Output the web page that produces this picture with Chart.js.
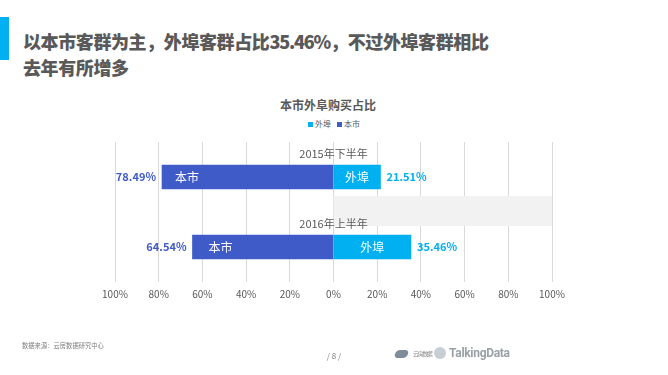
<!DOCTYPE html>
<html><head><meta charset="utf-8">
<script src="https://cdn.jsdelivr.net/npm/chart.js@4/dist/chart.umd.min.js"></script>
<style>
html,body{margin:0;padding:0;background:#fff;}
#page{position:relative;width:668px;height:375px;overflow:hidden;font-family:"Noto Sans CJK SC","Noto Sans",sans-serif;}
#accent{position:absolute;left:0;top:17px;width:9px;height:43px;background:#00b0f0;}
#title{position:absolute;left:23px;top:28px;font-size:18px;font-weight:900;line-height:26px;color:#595959;white-space:nowrap;letter-spacing:-0.4px;}
#title span{letter-spacing:-1.2px;}
#ctitle{position:absolute;left:0;width:656px;top:96px;text-align:center;font-size:12px;font-weight:bold;color:#595959;}
#legend{position:absolute;left:0;width:668px;top:118px;text-align:center;font-size:8px;color:#595959;line-height:12px;}
#legend span.sq{display:inline-block;width:5px;height:5px;margin-right:2px;vertical-align:0px;}
#legend span.it{margin:0 3px;}
#src{position:absolute;left:22px;top:341px;font-size:6.3px;color:#7f7f7f;}
#pg{position:absolute;left:0;width:668px;top:350px;text-align:center;font-size:8px;color:#7f7f7f;}
#logo1{position:absolute;left:395px;top:349px;font-size:6px;color:#8c8c8c;white-space:nowrap;letter-spacing:-1.4px;}
#logo1 b{display:inline-block;width:13px;height:8px;background:#7f8c99;border-radius:4px;transform:skewX(-20deg);vertical-align:-2px;margin-right:5px;}
#logo2{position:absolute;left:434px;top:346px;font-size:12px;font-weight:bold;color:#9aa0a6;font-family:"Liberation Sans Narrow","Roboto",sans-serif;letter-spacing:-0.3px;white-space:nowrap;}
#logo2 i{display:inline-block;width:12px;height:12px;border-radius:6px;background:#c7ced4;vertical-align:-2px;margin-right:3px;}
canvas{position:absolute;left:0;top:0;}
</style></head>
<body><div id="page">
<div id="accent"></div>
<div id="title">以本市客群为主，外埠客群占比<span>35.46%</span>，不过外埠客群相比<br>去年有所增多</div>
<div id="ctitle">本市外阜购买占比</div>
<div id="legend"></div>
<canvas id="c" width="668" height="375"></canvas>
<div id="src">数据来源：云房数据研究中心</div>
<div id="pg">/ 8 /</div>
<div id="logo1"><b></b>云房数据</div>
<div id="logo2"><i></i>TalkingData</div>
</div>
<script>
const categories = ['2015年下半年', '2016年上半年'];
const localShare = [78.49, 64.54];   // 本市
const outsideShare = [21.51, 35.46]; // 外埠
const tickValues = [-100, -80, -60, -40, -20, 0, 20, 40, 60, 80, 100];
const seriesNames = ['外埠', '本市'];
const colorOutside = '#00b0f0';
const colorLocal = '#3f5bc8';

// legend
const lg = document.getElementById('legend');
lg.innerHTML = seriesNames.map((n, i) =>
  `<span class="it"><span class="sq" style="background:${i === 0 ? colorOutside : colorLocal}"></span>${n}</span>`).join('');

const FONT = '"Noto Sans CJK SC","Noto Sans",sans-serif';

const labelPlugin = {
  id: 'labels',
  beforeDatasetsDraw(chart) {
    const ctx = chart.ctx, x = chart.scales.x, y = chart.scales.y;
    // light gray decoration between the two groups
    const yc = y.getPixelForValue(1);
    ctx.save();
    ctx.fillStyle = '#f2f2f2';
    ctx.fillRect(x.getPixelForValue(0), yc - 51, x.getPixelForValue(100) - x.getPixelForValue(0), 30);
    ctx.restore();
  },
  afterDatasetsDraw(chart) {
    const ctx = chart.ctx, x = chart.scales.x, y = chart.scales.y;
    ctx.save();
    categories.forEach((cat, i) => {
      const yc = y.getPixelForValue(i);
      ctx.font = '11px ' + FONT;
      ctx.fillStyle = '#595959';
      ctx.textAlign = 'center';
      ctx.textBaseline = 'middle';
      ctx.fillText(cat, x.getPixelForValue(0), yc - 23.5);
      // outer values
      ctx.font = 'bold 11px ' + FONT;
      ctx.fillStyle = colorLocal;
      ctx.textAlign = 'right';
      ctx.fillText(localShare[i].toFixed(2) + '%', x.getPixelForValue(-localShare[i]) - 6, yc);
      ctx.fillStyle = colorOutside;
      ctx.textAlign = 'left';
      ctx.fillText(outsideShare[i].toFixed(2) + '%', x.getPixelForValue(outsideShare[i]) + 6, yc);
      // inner labels
      ctx.font = '12px ' + FONT;
      ctx.fillStyle = '#ffffff';
      ctx.textAlign = 'left';
      ctx.fillText('本市', x.getPixelForValue(-localShare[i]) + 13 + i * 3, yc);
      ctx.textAlign = 'center';
      ctx.fillText('外埠', (x.getPixelForValue(0) + x.getPixelForValue(outsideShare[i])) / 2, yc);
    });
    ctx.restore();
  }
};

new Chart(document.getElementById('c'), {
  type: 'bar',
  data: {
    labels: categories,
    datasets: [
      { label: '本市', data: localShare.map(v => -v), backgroundColor: colorLocal, barThickness: 24, borderWidth: 0 },
      { label: '外埠', data: outsideShare, backgroundColor: colorOutside, barThickness: 24, borderWidth: 0 }
    ]
  },
  options: {
    indexAxis: 'y',
    responsive: false,
    animation: false,
    devicePixelRatio: 1,
    layout: { padding: { left: 115, right: 116, top: 142, bottom: 69 } },
    plugins: { legend: { display: false }, title: { display: false }, tooltip: { enabled: false } },
    scales: {
      x: {
        stacked: true, min: -100, max: 100,
        afterBuildTicks(s) { s.ticks = tickValues.map(v => ({ value: v })); },
        ticks: { callback: v => Math.abs(v) + '%', color: '#595959', font: { size: 10, family: FONT }, padding: 6, maxRotation: 0, autoSkip: false },
        grid: { color: '#d9d9d9', drawTicks: false },
        border: { display: false }
      },
      y: {
        stacked: true, display: false, offset: true,
        grid: { display: false }
      }
    }
  },
  plugins: [labelPlugin]
});
</script>
</body></html>
